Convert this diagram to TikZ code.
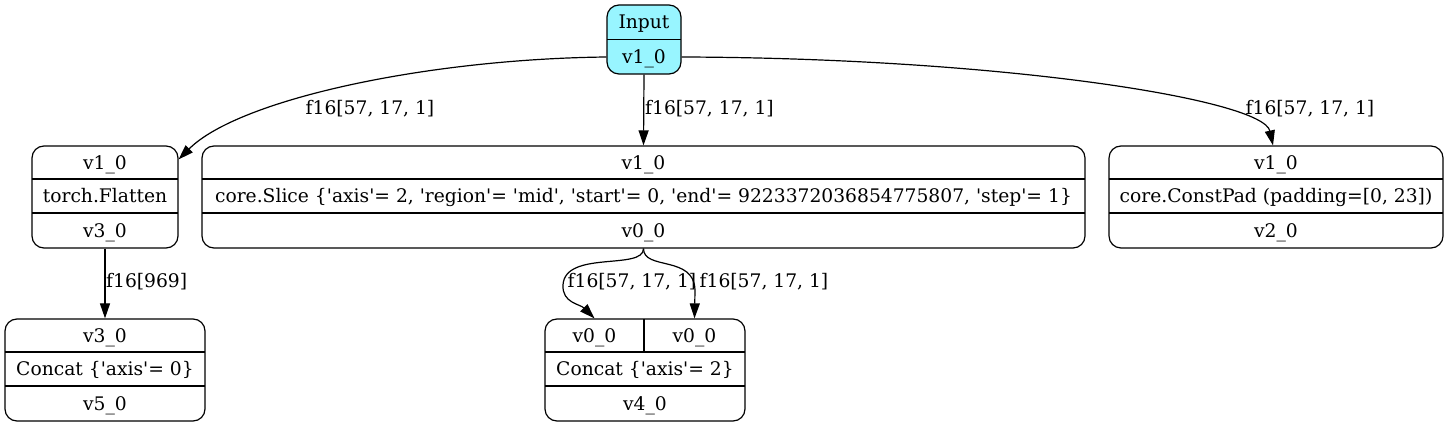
\documentclass[tikz,border=0pt]{standalone}
\usepackage{fontspec}
\setmainfont{DejaVu Serif}
\usetikzlibrary{arrows.meta}
\definecolor{inputcyan}{HTML}{98F5FF}
\newcommand\sq{\textquotesingle}
\tikzset{
  recbox/.style={draw, line width=1.2pt, rounded corners=12pt, inner sep=0pt},
  divline/.style={line width=1.2pt},
  celltext/.style={font=\fontsize{18.7}{22}\selectfont, inner sep=0pt, text height=13.5pt, text depth=0pt, anchor=center},
  elabel/.style={celltext},
  edge/.style={line width=1.2pt, -{Triangle[length=15pt,width=10pt]}},
}
\newcommand\recthree[7]{%
  \pgfmathsetmacro\rcx{(#2+#3)/2}%
  \pgfmathsetmacro\rw{#3-#2}%
  \node[recbox, minimum width=\rw pt, minimum height=102pt] (#1) at (\rcx,#4+51) {};
  \draw[divline] (#2,#4+33) -- (#3,#4+33);
  \draw[divline] (#2,#4+67) -- (#3,#4+67);
  \node[celltext] (#1a) at (\rcx,#4+16.5) {#5};
  \node[celltext] (#1b) at (\rcx,#4+50) {#6};
  \node[celltext] (#1c) at (\rcx,#4+84.5) {#7};
}
\begin{document}
\begin{tikzpicture}[x=1pt,y=-1pt]
\useasboundingbox (0,0) rectangle (1448,427);

% Input node
\node[recbox, fill=inputcyan, minimum width=74pt, minimum height=69pt] (in) at (644,39.5) {};
\draw[divline] (607,39.5) -- (681,39.5);
\node[celltext] (ina) at (644,22) {Input};
\node[celltext] (inb) at (644,57) {v1\_0};

% Second row
\recthree{flat}{32}{178}{146}{v1\_0}{torch.Flatten}{v3\_0}
\recthree{sl}{202}{1085}{146}{v1\_0}{core.Slice \{\sq axis\sq= 2, \sq region\sq= \sq mid\sq, \sq start\sq= 0, \sq end\sq= 9223372036854775807, \sq step\sq= 1\}}{v0\_0}
\recthree{cp}{1109}{1443}{146}{v1\_0}{core.ConstPad (padding=[0, 23])}{v2\_0}

% Third row
\recthree{cc0}{5}{205}{319}{v3\_0}{Concat \{\sq axis\sq= 0\}}{v5\_0}

\node[recbox, minimum width=200pt, minimum height=102pt] (cc2) at (645,370) {};
\draw[divline] (545,352) -- (745,352);
\draw[divline] (545,386) -- (745,386);
\draw[divline] (644,319) -- (644,352);
\node[celltext] (cc2l) at (594.5,335.5) {v0\_0};
\node[celltext] (cc2r) at (694.5,335.5) {v0\_0};
\node[celltext] (cc2b) at (645,369) {Concat \{\sq axis\sq= 2\}};
\node[celltext] (cc2c) at (645,403.5) {v4\_0};

% Edges
\draw[edge] (in.west |- inb) .. controls +(-180,2) and +(60,-60) .. ([yshift=-14pt]flat.north east);
\draw[edge] (in.south) -- (sl.north);
\draw[edge] (in.east |- inb) .. controls +(320,1) and +(-10,-46) .. (cp.north -| 1273,0);
\draw[edge] (flat.south) -- (cc0.north);
\draw[edge] (sl.south) .. controls +(0,22) and (565,250) .. (563,285) .. controls (562,303) and (580,304) .. (cc2.north -| cc2l);
\draw[edge] (sl.south) .. controls +(0,22) and (694,255) .. (695,290) -- (cc2.north -| cc2r);

% Edge labels
\node[elabel] (l1) at (370,108) {f16[57, 17, 1]};
\node[elabel, anchor=west] (l2) at (645,108) {f16[57, 17, 1]};
\node[elabel] (l3) at (1310,108) {f16[57, 17, 1]};
\node[elabel, anchor=west] (l4) at (106,281) {f16[969]};
\node[elabel] (l5) at (632,281) {f16[57, 17, 1]};
\node[elabel] (l6) at (764,281) {f16[57, 17, 1]};
\end{tikzpicture}
\end{document}
